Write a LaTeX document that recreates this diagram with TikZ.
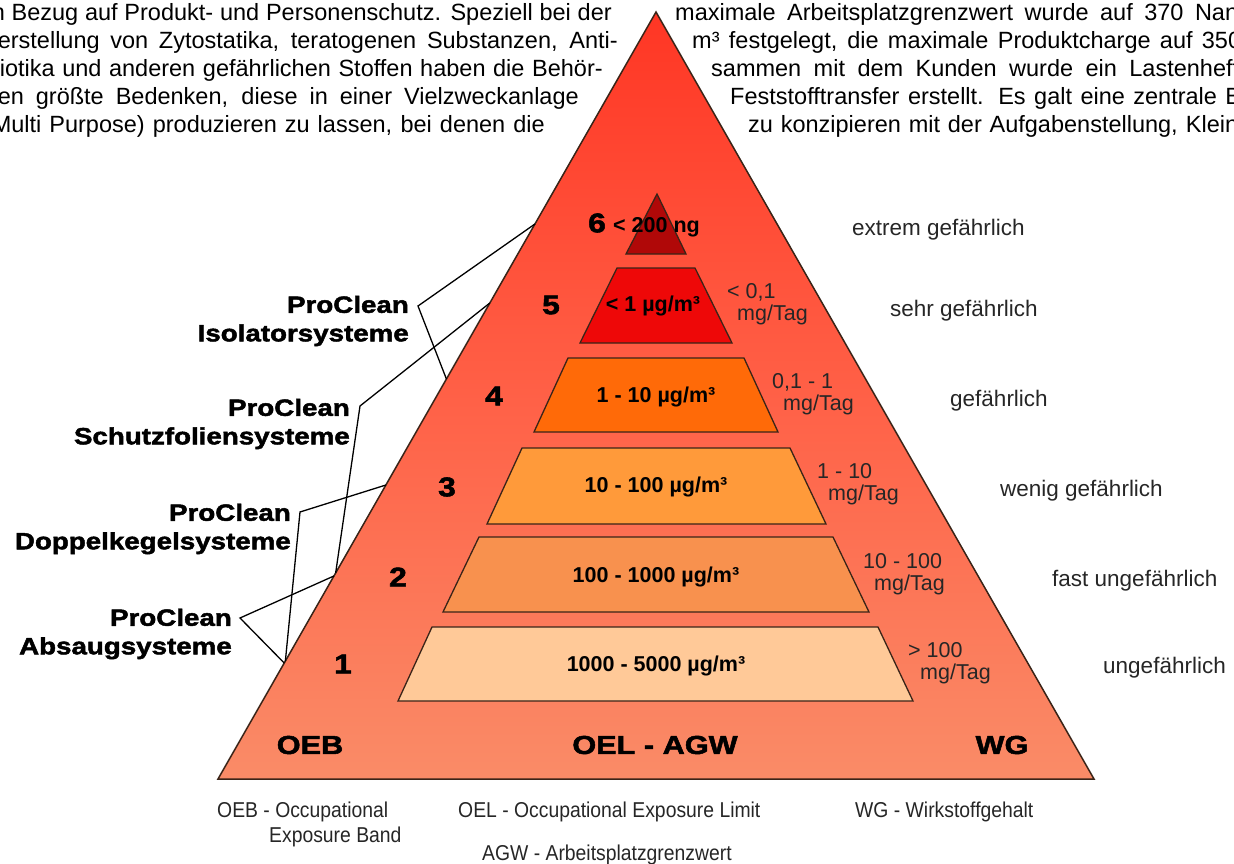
\documentclass[tikz,border=0pt]{standalone}
\usepackage{fontspec}
\setmainfont{Liberation Sans}
\newfontfamily\heavyfont{Liberation Sans}[UprightFont={* Bold},FakeBold=2,FakeStretch=1.18]
\newfontfamily\narrowfont{Liberation Sans}[FakeStretch=0.9]
\usetikzlibrary{calc}
\definecolor{pyA}{HTML}{F9BB8F}
\definecolor{pyB}{HTML}{F98F6A}
\definecolor{pyC}{HTML}{FF6248}
\definecolor{pyD}{HTML}{FF3624}
\definecolor{pyE}{HTML}{FF180A}
\definecolor{tierSix}{HTML}{B00808}
\definecolor{tierFive}{HTML}{EE0808}
\definecolor{tierFour}{HTML}{FF6A08}
\definecolor{tierThree}{HTML}{FF9A3A}
\definecolor{tierTwo}{HTML}{F8914E}
\definecolor{tierOne}{HTML}{FFC998}
\definecolor{edgeC}{HTML}{3A2418}
\pgfdeclareverticalshading{pyrshade}{100bp}{color(0bp)=(pyA); color(23bp)=(pyB); color(49bp)=(pyC); color(75bp)=(pyD); color(100bp)=(pyE)}
\newcommand\setsz[1]{\fontsize{#1}{#1}\selectfont}
\begin{document}
\begin{tikzpicture}[x=1pt,y=-1pt,
  body/.style={inner sep=0pt, font=\setsz{23.5}},
  tierbox/.style={draw=edgeC, line width=1.3pt, line join=miter},
  tiertext/.style={inner sep=0pt, font=\bfseries\setsz{21.5}},
  levelnum/.style={inner sep=0pt, font=\heavyfont\setsz{27}},
  dose/.style={inner sep=0pt, anchor=base west, font=\setsz{21.5}, text=black!85},
  hazard/.style={inner sep=0pt, anchor=base west, font=\setsz{22.5}, text=black!85},
  prolabel/.style={inner sep=0pt, anchor=east, align=right, font=\heavyfont\setsz{23.5}, text=black},
  basetext/.style={inner sep=0pt, font=\heavyfont\setsz{26}},
  legend/.style={inner sep=0pt, anchor=base west, font=\narrowfont\setsz{21.5}, text=black!85},
  conn/.style={draw=black, line width=1.3pt, line join=miter}
]
\useasboundingbox (0,0) rectangle (1234,864);
\clip (0,0) rectangle (1234,864);

% surrounding body text
\node[body, anchor=base east] (tl1) at (612,21) {\makebox[620pt][s]{n Bezug auf Produkt- und Personenschutz. Speziell bei der}};
\node[body, anchor=base east] (tl2) at (618,49) {\makebox[620pt][s]{erstellung von Zytostatika, teratogenen Substanzen, Anti-}};
\node[body, anchor=base east] (tl3) at (603,77) {\makebox[603pt][s]{iotika und anderen gefährlichen Stoffen haben die Behör-}};
\node[body, anchor=base east] (tl4) at (579,105) {\makebox[581pt][s]{en größte Bedenken, diese in einer Vielzweckanlage}};
\node[body, anchor=base east] (tl5) at (545,133) {\makebox[553pt][s]{Multi Purpose) produzieren zu lassen, bei denen die}};
\node[body, anchor=base west] (tr1) at (675,21) {\makebox[563pt][s]{maximale Arbeitsplatzgrenzwert wurde auf 370 Nan}};
\node[body, anchor=base west] (tr2) at (692,49) {\makebox[549pt][s]{m³ festgelegt, die maximale Produktcharge auf 350}};
\node[body, anchor=base west] (tr3) at (711,77) {\makebox[528pt][s]{sammen mit dem Kunden wurde ein Lastenheft}};
\node[body, anchor=base west] (tr4) at (730,105) {\makebox[511pt][s]{Feststofftransfer erstellt. Es galt eine zentrale B}};
\node[body, anchor=base west] (tr5) at (748,133) {\makebox[490pt][s]{zu konzipieren mit der Aufgabenstellung, Klein}};

% big pyramid
\coordinate (apex) at (656,12);
\coordinate (bl) at (218,779);
\coordinate (br) at (1094,779);
\shadedraw[shading=pyrshade, draw=edgeC, line width=1.5pt, line join=miter] (apex) -- (br) -- (bl) -- cycle;

% tiers
\draw[tierbox, fill=tierSix] (657,194) -- (686,254) -- (626,254) -- cycle;
\draw[tierbox, fill=tierFive] (617,268) -- (695,268) -- (732,343) -- (580,343) -- cycle;
\draw[tierbox, fill=tierFour] (568,358) -- (744,358) -- (778,432) -- (534,432) -- cycle;
\draw[tierbox, fill=tierThree] (522,448) -- (790,448) -- (826,524) -- (487,524) -- cycle;
\draw[tierbox, fill=tierTwo] (479,537) -- (833,537) -- (869,612) -- (443,612) -- cycle;
\draw[tierbox, fill=tierOne] (432,627) -- (878,627) -- (913,701) -- (398,701) -- cycle;

% tier texts
\node[tiertext, anchor=base west] (v6) at (613,232) {< 200 ng};
\node[tiertext] (v5) at (653,306) {< 1 µg/m³};
\node[tiertext] (v4) at (656,397) {1 - 10 µg/m³};
\node[tiertext] (v3) at (656,487) {10 - 100 µg/m³};
\node[tiertext] (v2) at (656,577) {100 - 1000 µg/m³};
\node[tiertext] (v1) at (656,666) {1000 - 5000 µg/m³};

% level numbers
\node[levelnum] (n6) at (597,223) {6};
\node[levelnum] (n5) at (551,305) {5};
\node[levelnum] (n4) at (494,396) {4};
\node[levelnum] (n3) at (447,487) {3};
\node[levelnum] (n2) at (398,577) {2};
\node[levelnum] (n1) at (343,664) {1};

% daily doses
\node[dose] (d5a) at (727,298) {< 0,1};
\node[dose] (d5b) at (737,320) {mg/Tag};
\node[dose] (d4a) at (772,388) {0,1 - 1};
\node[dose] (d4b) at (783,410) {mg/Tag};
\node[dose] (d3a) at (817,478) {1 - 10};
\node[dose] (d3b) at (828,500) {mg/Tag};
\node[dose] (d2a) at (863,568) {10 - 100};
\node[dose] (d2b) at (874,590) {mg/Tag};
\node[dose] (d1a) at (908,657) {> 100};
\node[dose] (d1b) at (920,679) {mg/Tag};

% hazard labels
\node[hazard] (h6) at (852,235) {extrem gefährlich};
\node[hazard] (h5) at (890,316) {sehr gefährlich};
\node[hazard] (h4) at (950,406) {gefährlich};
\node[hazard] (h3) at (1000,496) {wenig gefährlich};
\node[hazard] (h2) at (1052,586) {fast ungefährlich};
\node[hazard] (h1) at (1103,673) {ungefährlich};

% base labels
\node[basetext] (oeb) at (310,745) {OEB};
\node[basetext] (oel) at (655,745) {OEL - AGW};
\node[basetext] (wg) at (1002,745) {WG};

% legend
\node[legend] (lg1) at (217,817) {OEB - Occupational};
\node[legend] (lg2) at (269,842) {Exposure Band};
\node[legend] (lg3) at (458,817) {OEL - Occupational Exposure Limit};
\node[legend] (lg4) at (855,817) {WG - Wirkstoffgehalt};
\node[legend] (lg5) at (482,860) {AGW - Arbeitsplatzgrenzwert};

% ProClean labels
\node[prolabel] (iso) at (409,321) {ProClean\\[5pt]Isolatorsysteme};
\node[prolabel] (sfs) at (350,424) {ProClean\\[5pt]Schutzfoliensysteme};
\node[prolabel] (dks) at (291,529) {ProClean\\[5pt]Doppelkegelsysteme};
\node[prolabel] (abs) at (232,634) {ProClean\\[5pt]Absaugsysteme};

% connector vertices and edge points
\coordinate (isoV) at ($(iso.east)+(9,-15)$);
\coordinate (sfsV) at ($(sfs.east)+(10,-18)$);
\coordinate (dksV) at ($(dks.east)+(9,-17)$);
\coordinate (absV) at ($(abs.east)+(8,-16)$);
\coordinate (eIsoA) at ($(apex)!0.2764!(bl)$);
\coordinate (eIsoB) at ($(apex)!0.4785!(bl)$);
\coordinate (eSfsA) at ($(apex)!0.3794!(bl)$);
\coordinate (eSfsB) at ($(apex)!0.7314!(bl)$);
\coordinate (eDksA) at ($(apex)!0.6167!(bl)$);
\coordinate (eDksB) at ($(apex)!0.8462!(bl)$);
\coordinate (eAbsA) at ($(apex)!0.7353!(bl)$);
\coordinate (eAbsB) at ($(apex)!0.8488!(bl)$);

\draw[conn] (eIsoA) -- (isoV) -- (eIsoB);
\draw[conn] (eSfsA) -- (sfsV) -- (eSfsB);
\draw[conn] (eDksA) -- (dksV) -- (eDksB);
\draw[conn] (eAbsA) -- (absV) -- (eAbsB);
\end{tikzpicture}
\end{document}
